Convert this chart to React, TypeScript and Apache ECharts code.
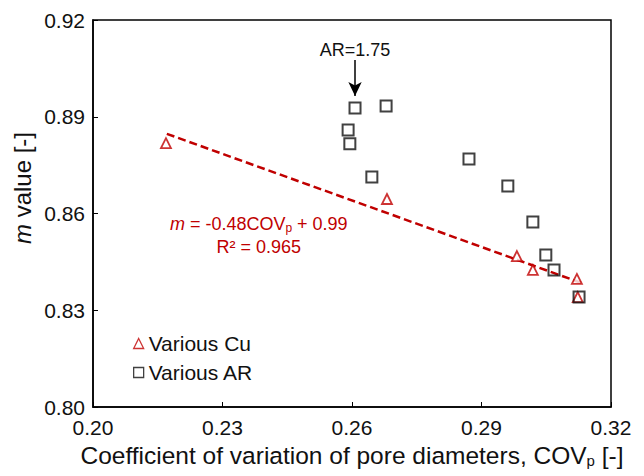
import React, { useEffect, useRef } from "react";
import * as echarts from "echarts";

// Various Cu (triangles)
const cuCov = [0.2169, 0.2681, 0.2982, 0.3019, 0.3121, 0.3123];
const cuM = [0.8818, 0.8645, 0.8468, 0.8425, 0.8397, 0.8341];
// Various AR (squares)
const arCov = [0.2607, 0.2679, 0.2591, 0.2595, 0.2646, 0.2871, 0.2961, 0.3019, 0.3049, 0.3068, 0.3126];
const arM = [0.8927, 0.8933, 0.8859, 0.8816, 0.8713, 0.8769, 0.8685, 0.8574, 0.8471, 0.8425, 0.8341];
// Trend line endpoints
const fitCov = [0.2171, 0.3133];
const fitM = [0.8847, 0.8384];
const xTicks = [0.2, 0.23, 0.26, 0.29, 0.32];
const yTicks = [0.8, 0.83, 0.86, 0.89, 0.92];

const FONT = "Liberation Sans, Arial, sans-serif";
const RED = "#c00000";
const INK = "#111";

export default function App() {
  const ref = useRef<HTMLDivElement>(null);
  useEffect(() => {
    const chart = echarts.init(ref.current!, null, { renderer: "svg" });
    chart.setOption({
      animation: false,
      textStyle: { fontFamily: FONT },
      grid: {
        left: 93, right: 33, top: 20, bottom: 69,
        show: true, borderColor: "#000", borderWidth: 1.5,
      },
      graphic: [
        {
          type: "text", x: 22, y: 188, rotation: Math.PI / 2,
          style: {
            text: "{i|m}{n| value [-]}",
            align: "center", verticalAlign: "middle",
            rich: {
              n: { fontFamily: FONT, fontSize: 24, fill: INK },
              i: { fontFamily: FONT, fontSize: 24, fill: INK, fontStyle: "italic" },
            },
          },
        },
      ],
      legend: {
        left: 128, top: 328, orient: "vertical", itemGap: 8,
        itemWidth: 10, itemHeight: 10,
        itemStyle: { borderWidth: 1.3 },
        textStyle: { fontFamily: FONT, fontSize: 21, color: INK },
        data: ["Various Cu", "Various AR"],
      },
      xAxis: {
        type: "value", min: xTicks[0], max: xTicks[xTicks.length - 1], interval: 0.03,
        axisLine: { show: true, lineStyle: { color: "#000", width: 1.5 } },
        axisTick: { show: true, inside: true, length: 5, lineStyle: { color: "#000" } },
        splitLine: { show: false },
        axisLabel: { fontFamily: FONT, fontSize: 21, color: INK, margin: 10, formatter: (v: number) => v.toFixed(2) },
        name: "{n|Coefficient of variation of pore diameters, COV}{s|p}{n| [-]}",
        nameLocation: "middle", nameGap: 36,
        nameTextStyle: {
          rich: {
            n: { fontFamily: FONT, fontSize: 24.5, color: INK },
            s: { fontFamily: FONT, fontSize: 15, color: INK, padding: [10, 0, 0, 0] },
          },
        },
      },
      yAxis: {
        type: "value", min: yTicks[0], max: yTicks[yTicks.length - 1], interval: 0.03,
        axisLine: { show: true, lineStyle: { color: "#000", width: 1.5 } },
        axisTick: { show: true, inside: true, length: 5, lineStyle: { color: "#000" } },
        splitLine: { show: false },
        axisLabel: { fontFamily: FONT, fontSize: 21, color: INK, margin: 8, formatter: (v: number) => v.toFixed(2) },
      },
      series: [
        {
          name: "fit", type: "line", data: fitCov.map((x, i) => [x, fitM[i]]),
          symbol: "none", lineStyle: { color: RED, width: 2.5, type: [8, 4] },
          z: 1,
          markPoint: {
            symbol: "circle", symbolSize: 0,
            label: {
              show: true, position: "inside", align: "center", lineHeight: 23,
              formatter: "{i|m}{t| = -0.48COV}{s|p}{t| + 0.99}\n{t|R² = 0.965}",
              rich: {
                t: { fontFamily: FONT, fontSize: 18, color: RED },
                i: { fontFamily: FONT, fontSize: 18, color: RED, fontStyle: "italic" },
                s: { fontFamily: FONT, fontSize: 12, color: RED, padding: [9, 0, 0, 0] },
              },
            },
            data: [{ coord: [0.2384, 0.8532] }],
          },
        },
        {
          name: "Various Cu", type: "scatter", data: cuCov.map((x, i) => [x, cuM[i]]),
          symbol: "triangle", symbolSize: 10,
          itemStyle: { color: "#fff", borderColor: RED, borderWidth: 1.8 },
          z: 3,
        },
        {
          name: "Various AR", type: "scatter", data: arCov.map((x, i) => [x, arM[i]]),
          symbol: "rect", symbolSize: 11,
          itemStyle: { color: "rgba(255,255,255,0)", borderColor: INK, borderWidth: 2 },
          z: 4,
          markLine: {
            silent: true, symbol: ["none", "arrow"], symbolSize: [10, 14],
            lineStyle: { color: "#000", width: 1.5, type: "solid" },
            label: { show: false },
            data: [[{ coord: [0.2607, 0.9076] }, { coord: [0.2607, 0.8964] }]],
          },
          markPoint: {
            symbol: "circle", symbolSize: 0,
            label: { show: true, position: "inside", formatter: "AR=1.75", fontFamily: FONT, fontSize: 18, color: INK },
            data: [{ coord: [0.2607, 0.9107] }],
          },
        },
      ],
    });
    return () => chart.dispose();
  }, []);
  return <div ref={ref} style={{ position: "absolute", left: 0, top: 0, width: 644, height: 476 }} />;
}
